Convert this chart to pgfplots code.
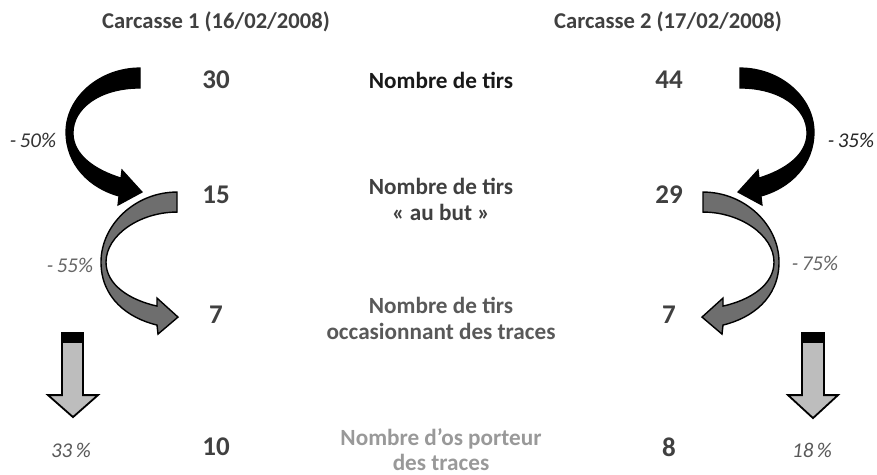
\documentclass[border=0pt]{standalone}
\usepackage{pgfplots}
\pgfplotsset{compat=1.18}
\usepackage{pgfplotstable}
\usepackage{fontspec}
\setmainfont{Carlito}
\definecolor{tgray}{HTML}{404040}
\definecolor{arrgray}{HTML}{6E6E6E}
\definecolor{lgray}{HTML}{BDBDBD}
\pgfplotstableread{
x y v
216 80 30
216 195 15
216 315 7
216 447 10
669 80 44
669 195 29
669 315 7
669 447 8
}\numbers
\begin{document}
\begin{tikzpicture}
\begin{axis}[
  scale only axis, width=438.5pt, height=237pt,
  xmin=0, xmax=877, ymin=0, ymax=474, y dir=reverse,
  hide axis, clip=false, /pgf/number format/assume math mode=true]
% curved arrows, carcasse 1
\filldraw[fill=black, draw=black, line width=0.6pt] (140,68) .. controls (100,68) and (66,97) .. (66,132) .. controls (66,165) and (90,188) .. (119,196) -- (118,205) -- (142,192) -- (122,170) -- (121,178) .. controls (95,170) and (73,155) .. (73,133) .. controls (73,108) and (100,88) .. (140,88) -- cycle;
\filldraw[fill=arrgray, draw=black, line width=0.7pt] (177,192) .. controls (135,192) and (101,225) .. (101,262) .. controls (101,298) and (128,318) .. (157,325) -- (158,334) -- (178,317) -- (157,298) -- (157,306) .. controls (130,300) and (106,285) .. (106,262) .. controls (106,235) and (140,212) .. (177,212) -- cycle;
% curved arrows, carcasse 2
\filldraw[fill=black, draw=black, line width=0.6pt] (740,68) .. controls (780,68) and (814,97) .. (814,132) .. controls (814,165) and (790,188) .. (761,196) -- (762,205) -- (738,192) -- (758,170) -- (759,178) .. controls (785,170) and (807,155) .. (807,133) .. controls (807,108) and (780,88) .. (740,88) -- cycle;
\filldraw[fill=arrgray, draw=black, line width=0.7pt] (703,192) .. controls (745,192) and (779,225) .. (779,262) .. controls (779,298) and (752,318) .. (723,325) -- (722,334) -- (702,317) -- (723,298) -- (723,306) .. controls (750,300) and (774,285) .. (774,262) .. controls (774,235) and (740,212) .. (703,212) -- cycle;
% straight arrows
\filldraw[fill=lgray, draw=black, line width=0.9pt] (62,333) -- (83,333) -- (83,395) -- (98,395) -- (73,417) -- (48,395) -- (62,395) -- cycle;
\fill[black] (62,333) rectangle (83,343);
\filldraw[fill=lgray, draw=black, line width=0.9pt] (802,333) -- (824,333) -- (824,395) -- (838,395) -- (813,418) -- (788,395) -- (802,395) -- cycle;
\fill[black] (802,333) rectangle (824,343);
% numbers
\addplot[draw=none, mark=none, nodes near coords={\pgfmathprintnumber{\pgfplotspointmeta}}, point meta=explicit,
  nodes near coords style={anchor=center, font=\fontsize{13.5}{15}\selectfont\bfseries, text=tgray}]
  table[x=x, y=y, meta=v] {\numbers};
% titles
\node[font=\fontsize{11.3}{13}\selectfont\bfseries, text=tgray] at (216,22) {Carcasse 1 (16/02/2008)};
\node[font=\fontsize{11.3}{13}\selectfont\bfseries, text=tgray] at (668,22) {Carcasse 2 (17/02/2008)};
% middle labels
\node[font=\fontsize{11.6}{13}\selectfont\bfseries, text=black!90, align=center] at (441,80) {Nombre de tirs};
\node[font=\fontsize{11.6}{13}\selectfont\bfseries, text=tgray, align=center] at (441,199) {Nombre de tirs\\« au but »};
\node[font=\fontsize{11.6}{13}\selectfont\bfseries, text=black!65, align=center] at (441,318) {Nombre de tirs\\occasionnant des traces};
\node[font=\fontsize{11.6}{12.5}\selectfont\bfseries, text=black!40, align=center, inner sep=1pt] at (441,450) {Nombre d’os porteur\\des traces};
% percentages
\node[font=\fontsize{10.5}{12}\selectfont\itshape, text=black!80] at (33,140) {-\,50\%};
\node[font=\fontsize{10.5}{12}\selectfont\itshape, text=black!60] at (70,265) {-\,55\%};
\node[font=\fontsize{10.5}{12}\selectfont\itshape, text=black!65] at (71,450) {33\,\%};
\node[font=\fontsize{10.5}{12}\selectfont\itshape, text=black!85] at (851,140) {-\,35\%};
\node[font=\fontsize{10.5}{12}\selectfont\itshape, text=black!60] at (815,263) {-\,75\%};
\node[font=\fontsize{10.5}{12}\selectfont\itshape, text=black!65] at (812,450) {18\,\%};
\end{axis}
\pgfresetboundingbox
\useasboundingbox (current axis.south west) rectangle (current axis.north east);
\end{tikzpicture}
\end{document}
